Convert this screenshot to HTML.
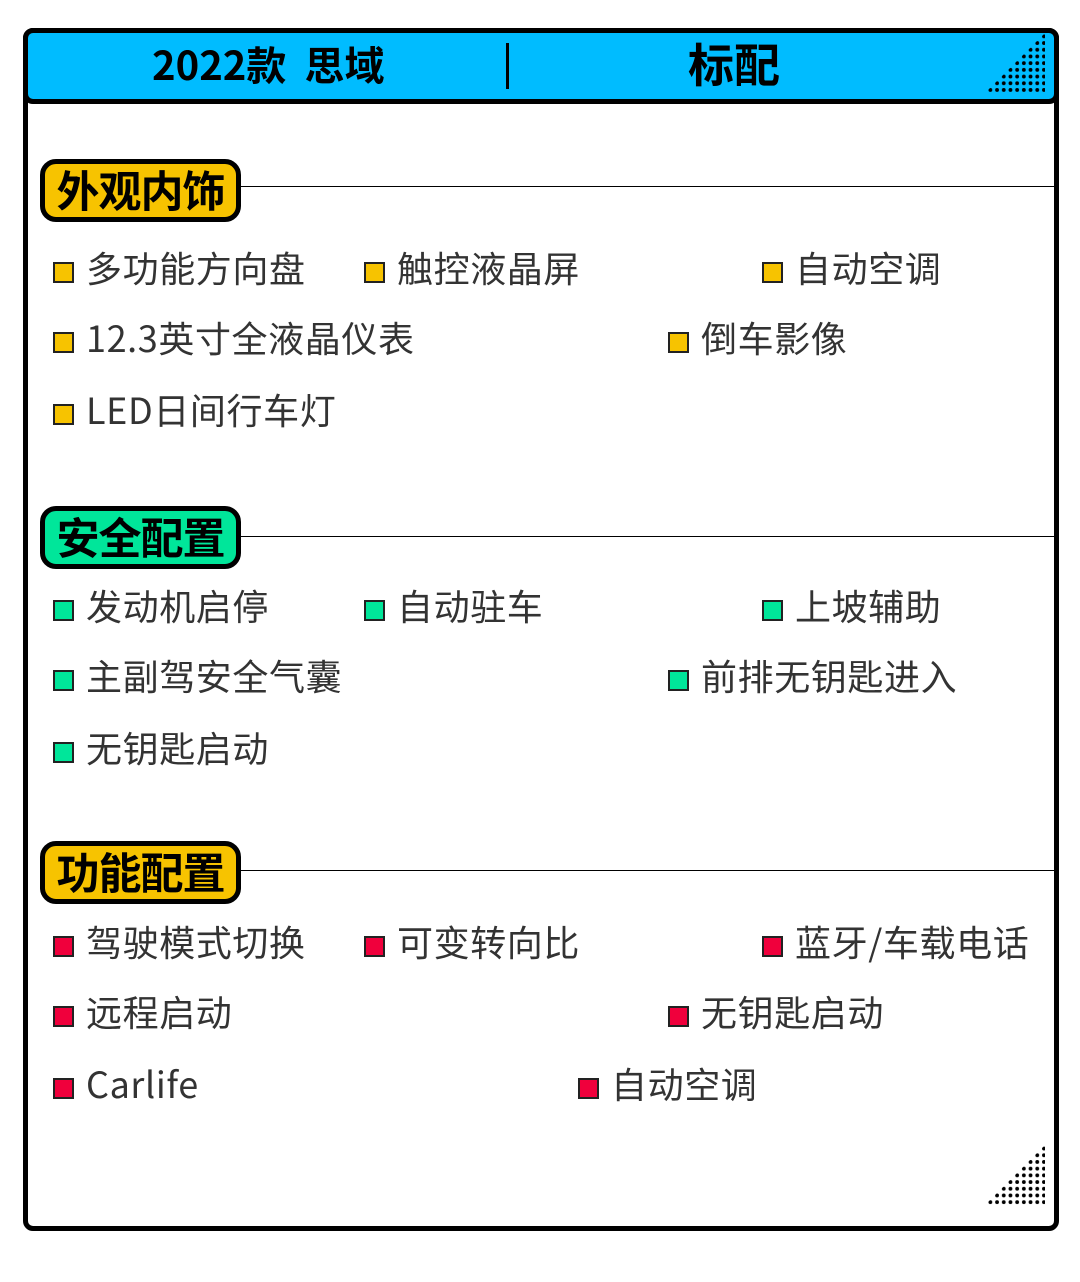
<!DOCTYPE html>
<html><head><meta charset="utf-8"><style>
body{margin:0;width:1080px;height:1282px;background:#fff;position:relative;overflow:hidden;font-family:"Noto Sans CJK SC","Liberation Sans",sans-serif}
.frame{position:absolute;left:23px;top:28px;width:1026px;height:1193px;border:5px solid #000;border-radius:10px}
.head{position:absolute;left:23px;top:28px;width:1026px;height:66px;background:#00bcff;border:5px solid #000;border-radius:10px}
.ht{position:absolute;top:35px;font-size:40px;font-weight:bold;color:#000;line-height:56px;white-space:nowrap}
.vl{position:absolute;left:506px;top:43px;width:3px;height:46px;background:#000}
.badge{position:absolute;left:40px;width:191px;height:53px;border:5px solid #000;border-radius:16px;font-size:43px;font-weight:bold;line-height:51px;text-align:center;white-space:nowrap;letter-spacing:-1px}
.line{position:absolute;left:241px;width:815px;height:1px;background:#000}
.it{position:absolute;font-size:36px;color:#333;line-height:40px;white-space:nowrap;letter-spacing:0.6px}
.it i{display:inline-block;width:17px;height:17px;border:2px solid #222;margin-right:12px;vertical-align:middle;position:relative;top:0px}
.y i{background:#f7c300}.g i{background:#00e69a}.r i{background:#f0003c}
</style></head><body>
<div class="frame"></div>
<div class="head"></div>
<div class="ht" style="left:152px">2022款&nbsp; 思域</div>
<div class="vl"></div>
<div class="ht" style="left:688px;font-size:46px">标配</div>
<div class="badge" style="top:159px;background:#f7c300">外观内饰</div>
<div class="line" style="top:186px"></div>
<div class="it y" style="left:53px;top:247px"><i></i>多功能方向盘</div>
<div class="it y" style="left:364px;top:247px"><i></i>触控液晶屏</div>
<div class="it y" style="left:762px;top:247px"><i></i>自动空调</div>
<div class="it y" style="left:53px;top:317px"><i></i>12.3英寸全液晶仪表</div>
<div class="it y" style="left:668px;top:317px"><i></i>倒车影像</div>
<div class="it y" style="left:53px;top:389px"><i></i>LED日间行车灯</div>
<div class="badge" style="top:506px;background:#00e69a">安全配置</div>
<div class="line" style="top:536px"></div>
<div class="it g" style="left:53px;top:585px"><i></i>发动机启停</div>
<div class="it g" style="left:364px;top:585px"><i></i>自动驻车</div>
<div class="it g" style="left:762px;top:585px"><i></i>上坡辅助</div>
<div class="it g" style="left:53px;top:655px"><i></i>主副驾安全气囊</div>
<div class="it g" style="left:668px;top:655px"><i></i>前排无钥匙进入</div>
<div class="it g" style="left:53px;top:727px"><i></i>无钥匙启动</div>
<div class="badge" style="top:841px;background:#f7c300">功能配置</div>
<div class="line" style="top:870px"></div>
<div class="it r" style="left:53px;top:921px"><i></i>驾驶模式切换</div>
<div class="it r" style="left:364px;top:921px"><i></i>可变转向比</div>
<div class="it r" style="left:762px;top:921px"><i></i>蓝牙/车载电话</div>
<div class="it r" style="left:53px;top:991px"><i></i>远程启动</div>
<div class="it r" style="left:668px;top:991px"><i></i>无钥匙启动</div>
<div class="it r" style="left:53px;top:1063px"><i></i>Carlife</div>
<div class="it r" style="left:578px;top:1063px"><i></i>自动空调</div>
<svg style="position:absolute;left:0;top:0" width="1080" height="1282">
<defs><pattern id="p" width="6.7" height="6.7" patternUnits="userSpaceOnUse" x="987" y="33"><circle cx="3.35" cy="3.35" r="1.9" fill="#000"/></pattern></defs>
<polygon points="985,93 1045,33 1045,93" fill="url(#p)"/>
<polygon points="985,1205 1045,1145 1045,1205" fill="url(#p)"/>
</svg>
</body></html>
